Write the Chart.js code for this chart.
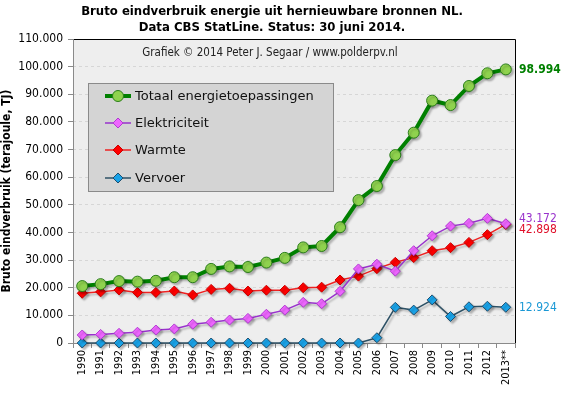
<!DOCTYPE html>
<html>
<head>
<meta charset="utf-8">
<script src="https://cdn.jsdelivr.net/npm/chart.js@4.4.0/dist/chart.umd.min.js"></script>
<style>
  html, body { margin: 0; padding: 0; background: #fff; }
  #wrap { width: 565px; height: 396px; position: relative; }
</style>
</head>
<body>
<div id="wrap"><canvas id="chart" width="565" height="396"></canvas></div>
<script>
// years on the x axis
let years = ["1990", "1991", "1992", "1993", "1994", "1995", "1996", "1997", "1998", "1999",
  "2000", "2001", "2002", "2003", "2004", "2005", "2006", "2007", "2008", "2009",
  "2010", "2011", "2012", "2013**"];

// values in TJ
let totaal = [20600, 21300, 22400, 22200, 22500, 23800, 23800, 26800, 27700, 27500,
  29100, 30800, 34600, 35100, 41900, 51700, 56800, 68000, 76100, 87700,
  86100, 93000, 97600, 98994];
let elektriciteit = [2900, 3100, 3500, 3900, 4700, 5100, 6800, 7500, 8300, 8900,
  10400, 11900, 14700, 14200, 18700, 26800, 28500, 26000, 33400, 38800,
  42300, 43300, 45100, 43172];
let warmte = [18000, 18500, 19200, 18300, 18300, 18800, 17400, 19400, 19800, 18800,
  19100, 19100, 20000, 20200, 22800, 24200, 26900, 29200, 30900, 33400,
  34500, 36400, 39200, 42898];
let vervoer = [0, 0, 0, 0, 0, 0, 0, 0, 0, 0,
  0, 0, 0, 0, 0, 0, 1900, 12900, 11900, 15600,
  9600, 13100, 13300, 12924];

let yTicksMax = 110000;

let fmt = function (v) {
  return String(Math.round(v)).replace(/\B(?=(\d{3})+(?!\d))/g, ".");
};

let FONT = "'DejaVu Sans Condensed', 'DejaVu Sans', sans-serif";
let WIDE = "'DejaVu Sans', sans-serif";

// background + frame
let frame = {
  id: "frame",
  beforeDraw: function (chart) {
    let c = chart.ctx, a = chart.chartArea;
    c.save();
    c.fillStyle = "#fff";
    c.fillRect(0, 0, chart.width, chart.height);
    c.fillStyle = "#eeeeee";
    c.fillRect(a.left, a.top, a.right - a.left, a.bottom - a.top);
    c.restore();
  },
  beforeDatasetsDraw: function (chart) {
    let c = chart.ctx, a = chart.chartArea;
    c.save();
    c.lineWidth = 1;
    c.strokeStyle = "#000";
    c.beginPath();
    c.moveTo(a.left, a.top + 0.5);
    c.lineTo(a.right + 0.5, a.top + 0.5);
    c.lineTo(a.right + 0.5, a.bottom);
    c.stroke();
    c.strokeStyle = "#8a8a8a";
    c.beginPath();
    c.moveTo(a.left + 0.5, a.top);
    c.lineTo(a.left + 0.5, a.bottom + 0.5);
    c.lineTo(a.right, a.bottom + 0.5);
    c.stroke();
    c.restore();
  },
};

// drop shadow under lines and markers
let shadow = {
  id: "shadow",
  beforeDatasetDraw: function (chart) {
    let c = chart.ctx;
    c.save();
    c.shadowColor = "rgba(0,0,0,0.25)";
    c.shadowOffsetX = 2;
    c.shadowOffsetY = 2;
    c.shadowBlur = 2;
  },
  afterDatasetDraw: function (chart) {
    chart.ctx.restore();
  },
};

// titles, legend box and end-of-line labels
let texts = {
  id: "texts",
  afterDraw: function (chart) {
    let c = chart.ctx;
    c.save();
    c.textBaseline = "middle";
    c.textAlign = "center";
    c.fillStyle = "#000";
    c.font = "bold 13px " + FONT;
    c.fillText("Bruto eindverbruik energie uit hernieuwbare bronnen NL.", 272, 12);
    c.fillText("Data CBS StatLine. Status: 30 juni 2014.", 272, 28);
    c.font = "11.5px " + FONT;
    c.fillStyle = "#222";
    c.fillText("Grafiek \u00a9 2014 Peter J. Segaar / www.polderpv.nl", 270, 53);

    // legend
    c.fillStyle = "#d4d4d4";
    c.fillRect(88, 83, 245, 108);
    c.strokeStyle = "#8a8a8a";
    c.lineWidth = 1;
    c.strokeRect(88.5, 83.5, 245, 108);
    let rows = [96, 123, 150, 178];
    chart.data.datasets.forEach(function (ds, i) {
      let y = rows[i];
      c.strokeStyle = ds.borderColor;
      c.lineWidth = ds.borderWidth;
      c.beginPath();
      c.moveTo(105, y);
      c.lineTo(131, y);
      c.stroke();
      c.fillStyle = ds.pointBackgroundColor;
      c.strokeStyle = ds.pointBorderColor;
      c.lineWidth = 1;
      c.beginPath();
      if (ds.pointStyle === "circle") {
        c.arc(118, y, 5.5, 0, Math.PI * 2);
      } else {
        c.moveTo(118, y - 5);
        c.lineTo(123, y);
        c.lineTo(118, y + 5);
        c.lineTo(113, y);
        c.closePath();
      }
      c.fill();
      c.stroke();
      c.fillStyle = "#111";
      c.textAlign = "left";
      c.font = "13px " + WIDE;
      c.fillText(ds.label, 135, y + 1);
    });

    // values of the last year
    let ys = chart.scales.y;
    let x = chart.chartArea.right + 4;
    let last = years.length - 1;
    let ends = [
      { v: totaal[last], color: "#008000", bold: true, dy: 0 },
      { v: elektriciteit[last], color: "#9933cc", bold: false, dy: -5 },
      { v: warmte[last], color: "#e0102a", bold: false, dy: 5 },
      { v: vervoer[last], color: "#1a98d5", bold: false, dy: 1 },
    ];
    c.textAlign = "left";
    ends.forEach(function (e) {
      c.font = (e.bold ? "bold " : "") + "12px " + FONT;
      c.fillStyle = e.color;
      c.fillText(fmt(e.v), x, ys.getPixelForValue(e.v) + e.dy);
    });
    c.restore();
  },
};

new Chart(document.getElementById("chart"), {
  type: "line",
  data: {
    labels: years,
    datasets: [
      {
        label: "Totaal energietoepassingen",
        data: totaal,
        borderColor: "#008000",
        borderWidth: 4,
        pointStyle: "circle",
        pointRadius: 5.5,
        pointBackgroundColor: "#8fd24e",
        pointBorderColor: "#2a7d1a",
        pointBorderWidth: 1,
        order: 1,
      },
      {
        label: "Elektriciteit",
        data: elektriciteit,
        borderColor: "#9933cc",
        borderWidth: 1.5,
        pointStyle: "rectRot",
        pointRadius: 5,
        pointBackgroundColor: "#ee66ff",
        pointBorderColor: "#b03bd0",
        pointBorderWidth: 1,
        order: 2,
      },
      {
        label: "Warmte",
        data: warmte,
        borderColor: "#ee2222",
        borderWidth: 1.5,
        pointStyle: "rectRot",
        pointRadius: 5,
        pointBackgroundColor: "#ff0000",
        pointBorderColor: "#cc0000",
        pointBorderWidth: 1,
        order: 3,
      },
      {
        label: "Vervoer",
        data: vervoer,
        borderColor: "#2f5266",
        borderWidth: 1.5,
        pointStyle: "rectRot",
        pointRadius: 5,
        pointBackgroundColor: "#1aa3e8",
        pointBorderColor: "#1f4f6f",
        pointBorderWidth: 1,
        order: 4,
      },
    ],
  },
  options: {
    responsive: false,
    animation: false,
    clip: false,
    tension: 0,
    layout: { padding: { top: 39, right: 50, left: 0, bottom: 0 } },
    plugins: {
      legend: { display: false },
      title: { display: false },
      tooltip: { enabled: false },
    },
    scales: {
      x: {
        type: "category",
        offset: true,
        afterFit: function (s) { s.height = 53; },
        grid: {
          offset: true,
          drawOnChartArea: false,
          tickLength: 5,
          tickColor: "#8a8a8a",
        },
        border: { display: false },
        ticks: {
          minRotation: 90,
          maxRotation: 90,
          autoSkip: false,
          padding: 2,
          color: "#000",
          font: { family: FONT, size: 11 },
        },
      },
      y: {
        min: 0,
        max: yTicksMax,
        afterFit: function (s) { s.width = 73; },
        grid: {
          color: function (ctx) {
            let v = ctx.tick.value;
            return v % 10000 === 0 && v > 0 && v < yTicksMax ? "#d6d6d6" : "rgba(0,0,0,0)";
          },
          tickColor: "#8a8a8a",
          tickLength: 5,
        },
        border: { display: false, dash: [3, 3] },
        ticks: {
          stepSize: 5000,
          padding: 5,
          color: "#000",
          font: { family: FONT, size: 12 },
          callback: function (v) { return v % 10000 === 0 ? fmt(v) : ""; },
        },
        title: {
          display: true,
          text: "Bruto eindverbruik (terajoule, TJ)",
          color: "#000",
          padding: 0,
          font: { family: FONT, size: 12, weight: "bold" },
        },
      },
    },
  },
  plugins: [frame, shadow, texts],
});
</script>
</body>
</html>
